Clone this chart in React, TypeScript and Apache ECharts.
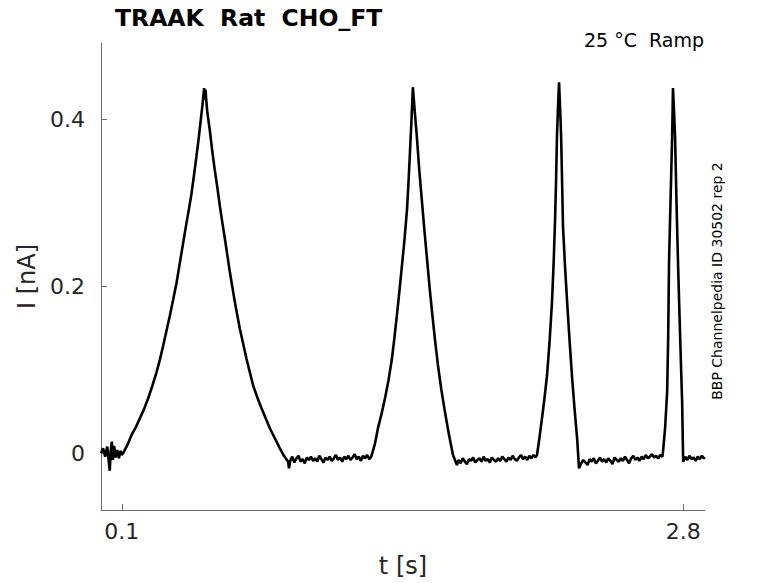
import React, { useEffect, useRef } from "react";
import * as echarts from "echarts";

const FONT = '"DejaVu Sans", Verdana, sans-serif';

const chartTitle = "TRAAK  Rat  CHO_FT";
const chartSubtitle = "25 °C  Ramp";
const sideNote = "BBP Channelpedia ID 30502 rep 2";
const xName = "t [s]";
const yName = "I [nA]";
const xTicks = [0.1, 2.8];
const yTicks = [0, 0.2, 0.4];
const xRange = [0, 2.905];
const yRange = [-0.068, 0.492];

// [t (s), I (nA)]
const baseline0: [number, number][] = [
  [0.0, 0.0], [0.01, 0.006], [0.02, -0.004], [0.03, 0.008], [0.036, -0.006],
  [0.042, -0.021], [0.047, 0.003], [0.052, 0.014], [0.057, -0.008], [0.063, 0.009],
  [0.07, -0.005], [0.078, 0.004], [0.086, -0.006], [0.094, 0.003], [0.1, -0.002],
];
const peak1: [number, number][] = [
  [0.106, 0.0], [0.127, 0.01], [0.147, 0.022], [0.167, 0.031], [0.187, 0.042],
  [0.207, 0.053], [0.227, 0.066], [0.247, 0.081], [0.267, 0.097], [0.283, 0.112],
  [0.299, 0.129], [0.315, 0.147], [0.331, 0.165], [0.347, 0.184], [0.363, 0.204],
  [0.375, 0.222], [0.387, 0.24], [0.399, 0.258], [0.411, 0.276], [0.423, 0.293],
  [0.435, 0.311], [0.447, 0.333], [0.459, 0.356], [0.47, 0.378], [0.48, 0.4],
  [0.489, 0.42], [0.496, 0.438], [0.5, 0.424], [0.503, 0.436], [0.506, 0.424],
  [0.511, 0.41], [0.523, 0.388], [0.535, 0.363], [0.547, 0.34], [0.56, 0.318],
  [0.572, 0.296], [0.584, 0.276], [0.596, 0.257], [0.608, 0.237], [0.62, 0.217],
  [0.632, 0.199], [0.644, 0.181], [0.656, 0.165], [0.668, 0.149], [0.684, 0.131],
  [0.7, 0.113], [0.716, 0.097], [0.732, 0.081], [0.752, 0.067], [0.772, 0.054],
  [0.792, 0.042], [0.812, 0.03], [0.836, 0.018], [0.86, 0.006], [0.88, -0.003],
  [0.9, -0.01], [0.904, -0.018],
];
const baseline1: [number, number][] = [
  [0.91, -0.009], [0.92, -0.004], [0.93, -0.011], [0.94, -0.006], [0.95, -0.003],
  [0.96, -0.01], [0.97, -0.007], [0.98, -0.012], [0.99, -0.005], [1.0, -0.008],
  [1.01, -0.004], [1.02, -0.009], [1.03, -0.006], [1.04, -0.01], [1.05, -0.003],
  [1.06, -0.007], [1.07, -0.011], [1.08, -0.005], [1.09, -0.008], [1.1, -0.004],
  [1.11, -0.009], [1.12, -0.006], [1.13, -0.002], [1.14, -0.008], [1.15, -0.005],
  [1.16, -0.01], [1.17, -0.004], [1.18, -0.007], [1.19, -0.003], [1.2, -0.008],
  [1.21, -0.005], [1.22, -0.001], [1.23, -0.007], [1.24, -0.004], [1.25, -0.009],
  [1.26, -0.003], [1.27, -0.006], [1.28, -0.002], [1.29, -0.007], [1.3, -0.004],
];
const peak2: [number, number][] = [
  [1.303, -0.004], [1.318, 0.012], [1.332, 0.03], [1.349, 0.047], [1.366, 0.066],
  [1.383, 0.088], [1.399, 0.113], [1.411, 0.138], [1.423, 0.165], [1.435, 0.194],
  [1.447, 0.224], [1.46, 0.257], [1.472, 0.293], [1.479, 0.325], [1.486, 0.361],
  [1.493, 0.398], [1.5, 0.439], [1.509, 0.41], [1.519, 0.38], [1.531, 0.339],
  [1.544, 0.301], [1.556, 0.266], [1.568, 0.233], [1.58, 0.2], [1.592, 0.17],
  [1.606, 0.137], [1.621, 0.105], [1.637, 0.076], [1.654, 0.05], [1.673, 0.023],
  [1.693, -0.002], [1.712, -0.014],
];
const baseline2: [number, number][] = [
  [1.72, -0.008], [1.73, -0.012], [1.74, -0.006], [1.75, -0.01], [1.76, -0.013],
  [1.77, -0.007], [1.78, -0.009], [1.79, -0.005], [1.8, -0.011], [1.81, -0.008],
  [1.82, -0.006], [1.83, -0.01], [1.84, -0.004], [1.85, -0.009], [1.86, -0.007],
  [1.87, -0.011], [1.88, -0.005], [1.89, -0.008], [1.9, -0.01], [1.91, -0.006],
  [1.92, -0.009], [1.93, -0.004], [1.94, -0.007], [1.95, -0.01], [1.96, -0.005],
  [1.97, -0.008], [1.98, -0.003], [1.99, -0.007], [2.0, -0.009], [2.01, -0.005],
  [2.02, -0.002], [2.03, -0.007], [2.04, -0.004], [2.05, -0.008], [2.06, -0.003],
  [2.07, -0.006], [2.08, -0.002], [2.09, -0.005],
];
const peak3: [number, number][] = [
  [2.097, -0.002], [2.109, 0.019], [2.121, 0.042], [2.133, 0.066], [2.145, 0.093],
  [2.157, 0.132], [2.169, 0.181], [2.177, 0.228], [2.184, 0.281], [2.189, 0.33],
  [2.193, 0.38], [2.198, 0.415], [2.203, 0.445], [2.208, 0.415], [2.213, 0.38],
  [2.218, 0.322], [2.222, 0.272], [2.232, 0.223], [2.242, 0.181], [2.254, 0.134],
  [2.266, 0.09], [2.278, 0.052], [2.29, 0.018], [2.299, -0.018],
];
const baseline3: [number, number][] = [
  [2.31, -0.012], [2.32, -0.008], [2.33, -0.011], [2.34, -0.014], [2.35, -0.007],
  [2.36, -0.01], [2.37, -0.006], [2.38, -0.012], [2.39, -0.009], [2.4, -0.005],
  [2.41, -0.01], [2.42, -0.007], [2.43, -0.011], [2.44, -0.006], [2.45, -0.009],
  [2.46, -0.013], [2.47, -0.005], [2.48, -0.008], [2.49, -0.01], [2.5, -0.006],
  [2.51, -0.009], [2.52, -0.004], [2.53, -0.008], [2.54, -0.012], [2.55, -0.006],
  [2.56, -0.003], [2.57, -0.008], [2.58, -0.005], [2.59, -0.009], [2.6, -0.004],
  [2.61, -0.007], [2.62, -0.002], [2.63, -0.006], [2.64, -0.004], [2.65, -0.001],
  [2.66, -0.005], [2.67, -0.003], [2.68, -0.006], [2.69, -0.002], [2.7, -0.004],
];
const peak4: [number, number][] = [
  [2.703, 0.002], [2.713, 0.03], [2.723, 0.074], [2.728, 0.14], [2.732, 0.229],
  [2.74, 0.31], [2.747, 0.38], [2.751, 0.438], [2.756, 0.41], [2.761, 0.38],
  [2.768, 0.3], [2.776, 0.221], [2.786, 0.135], [2.795, 0.062], [2.8, -0.01],
];
const baseline4: [number, number][] = [
  [2.81, -0.004], [2.82, -0.008], [2.83, -0.003], [2.84, -0.007], [2.85, -0.005],
  [2.86, -0.009], [2.87, -0.004], [2.88, -0.007], [2.89, -0.003], [2.9, -0.006],
  [2.905, -0.005],
];

const trace = [
  ...baseline0, ...peak1, ...baseline1, ...peak2, ...baseline2,
  ...peak3, ...baseline3, ...peak4, ...baseline4,
];

const AXIS_COLOR = "#6e6e6e";
const TEXT_COLOR = "#262626";

export default function App() {
  const ref = useRef<HTMLDivElement>(null);
  useEffect(() => {
    document.body.style.margin = "0";
    if (!ref.current) return;
    const chart = echarts.init(ref.current, undefined, { renderer: "svg" });
    chart.setOption({
      animation: false,
      backgroundColor: "#ffffff",
      grid: { left: 101, top: 43, right: 73, bottom: 71 },
      xAxis: {
        type: "value",
        min: xRange[0],
        max: xRange[1],
        name: xName,
        nameLocation: "middle",
        nameGap: 44,
        nameTextStyle: { fontSize: 24, color: TEXT_COLOR, fontFamily: FONT },
        axisLine: { show: true, onZero: false, lineStyle: { color: AXIS_COLOR, width: 1 } },
        axisTick: { show: true, inside: true, length: 6, customValues: xTicks, lineStyle: { color: AXIS_COLOR } },
        axisLabel: { customValues: xTicks, fontSize: 22, color: TEXT_COLOR, fontFamily: FONT, margin: 10 },
        splitLine: { show: false },
      },
      yAxis: {
        type: "value",
        min: yRange[0],
        max: yRange[1],
        name: yName,
        nameLocation: "middle",
        nameRotate: 90,
        nameGap: 60,
        nameTextStyle: { fontSize: 24, color: TEXT_COLOR, fontFamily: FONT },
        axisLine: { show: true, onZero: false, lineStyle: { color: AXIS_COLOR, width: 1 } },
        axisTick: { show: true, inside: true, length: 6, customValues: yTicks, lineStyle: { color: AXIS_COLOR } },
        axisLabel: { customValues: yTicks, fontSize: 22, color: TEXT_COLOR, fontFamily: FONT, margin: 16 },
        splitLine: { show: false },
      },
      series: [
        {
          type: "line",
          data: trace,
          symbol: "none",
          showSymbol: false,
          silent: true,
          lineStyle: { color: "#000000", width: 2.6 },
        },
      ],
      graphic: [
        {
          type: "text",
          x: 115,
          y: 18,
          style: {
            text: chartTitle,
            font: `bold 23.5px ${FONT}`,
            fill: "#000000",
            textAlign: "left",
            textVerticalAlign: "middle",
          },
        },
        {
          type: "text",
          x: 704,
          y: 40,
          style: {
            text: chartSubtitle,
            font: `19px ${FONT}`,
            fill: "#000000",
            textAlign: "right",
            textVerticalAlign: "middle",
          },
        },
        {
          type: "text",
          x: 717,
          y: 281,
          rotation: Math.PI / 2,
          style: {
            text: sideNote,
            font: `14px ${FONT}`,
            fill: "#000000",
            textAlign: "center",
            textVerticalAlign: "middle",
          },
        },
      ],
    });
    return () => chart.dispose();
  }, []);
  return <div ref={ref} style={{ width: 778, height: 583 }} />;
}
